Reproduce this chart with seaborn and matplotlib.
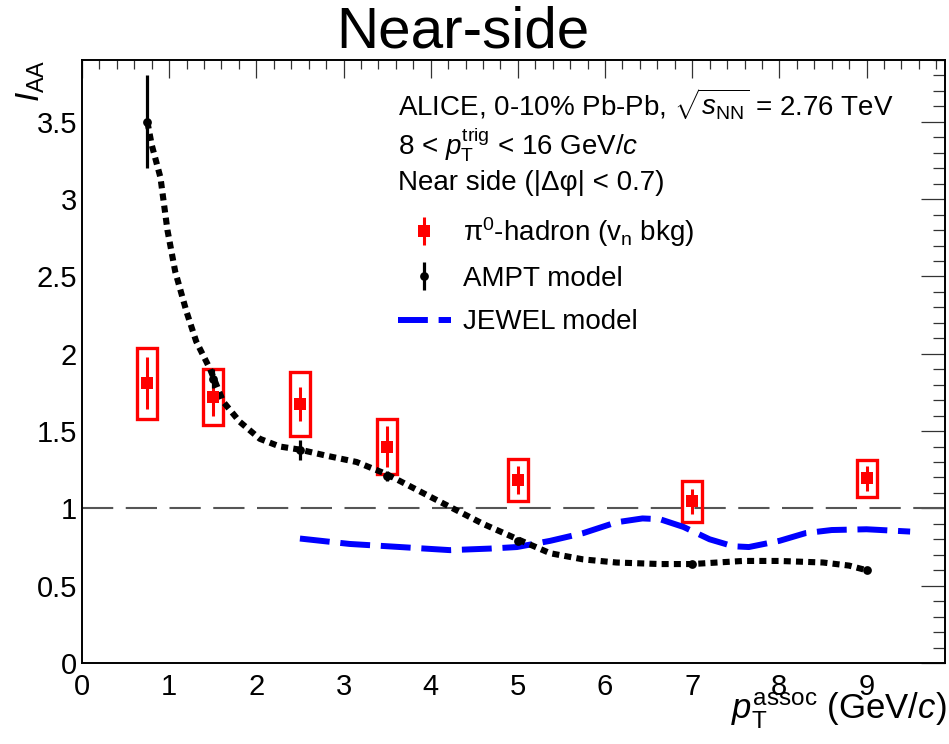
import matplotlib
matplotlib.use("Agg")
import matplotlib.pyplot as plt
from matplotlib.patches import Rectangle
from matplotlib.ticker import MultipleLocator, FuncFormatter
import seaborn as sns

# pi0-hadron near-side I_AA (0-10% Pb-Pb, v_n background subtraction)
pi0_pt = [0.75, 1.5, 2.5, 3.5, 5.0, 7.0, 9.0]
pi0_iaa = [1.81, 1.72, 1.675, 1.40, 1.185, 1.045, 1.195]
pi0_stat = [0.17, 0.12, 0.11, 0.13, 0.09, 0.08, 0.08]
pi0_sys = [0.23, 0.18, 0.21, 0.18, 0.135, 0.13, 0.12]

# AMPT model points
ampt_pt = [0.75, 1.5, 2.5, 3.5, 5.0, 7.0, 9.0]
ampt_iaa = [3.50, 1.84, 1.38, 1.21, 0.79, 0.64, 0.60]
ampt_err = [0.30, 0.06, 0.065, 0.03, 0.02, 0.02, 0.02]

# smooth AMPT curve
ampt_curve_pt = [0.75, 0.80, 0.90, 0.98, 1.07, 1.20, 1.31, 1.47, 1.62, 1.81,
                 2.04, 2.27, 2.50, 2.81, 3.15, 3.50, 3.91, 4.22, 4.60, 5.00,
                 5.37, 5.75, 6.13, 6.63, 7.00, 7.58, 8.00, 8.50, 8.80, 9.00]
ampt_curve_iaa = [3.50, 3.35, 3.14, 2.80, 2.53, 2.27, 2.08, 1.90, 1.69, 1.56,
                  1.45, 1.40, 1.38, 1.34, 1.30, 1.22, 1.10, 1.01, 0.90, 0.80,
                  0.71, 0.67, 0.65, 0.64, 0.64, 0.66, 0.66, 0.65, 0.63, 0.60]

# JEWEL model curve
jewel_pt = [2.5, 3.07, 3.65, 4.22, 4.68, 4.99, 5.37, 5.75, 6.13, 6.43,
            6.63, 6.90, 7.20, 7.47, 7.65, 8.00, 8.30, 8.60, 9.00, 9.50]
jewel_iaa = [0.805, 0.77, 0.75, 0.73, 0.74, 0.75, 0.79, 0.84, 0.91, 0.935,
             0.93, 0.88, 0.80, 0.755, 0.75, 0.79, 0.84, 0.86, 0.865, 0.85]

info_lines = [
    r"ALICE, 0-10% Pb-Pb, $\sqrt{s_{\rm NN}}$ = 2.76 TeV",
    r"8 < $p_{\rm T}^{\rm trig}$ < 16 GeV/$c$",
    "Near side (|Δφ| < 0.7)",
]
legend_labels = [r"π$^{0}$-hadron (v$_{\rm n}$ bkg)", "AMPT model", "JEWEL model"]

sns.set_theme(style="white")
plt.rcParams["font.family"] = ["Liberation Sans", "DejaVu Sans"]
plt.rcParams["mathtext.fontset"] = "custom"
plt.rcParams["mathtext.rm"] = "Liberation Sans"
plt.rcParams["mathtext.it"] = "Liberation Sans:italic"
plt.rcParams["mathtext.bf"] = "Liberation Sans:bold"
plt.rcParams["text.color"] = "black"
plt.rcParams["axes.labelcolor"] = "black"

W, H = 949, 744
fig = plt.figure(figsize=(W / 100, H / 100), dpi=100)
ax = fig.add_axes([82 / W, 81 / H, 863 / W, 603 / H])
ax.set_xlim(0, 9.9)
ax.set_ylim(0, 3.9)

# unity reference
ax.axhline(1.0, color="#555555", lw=1.5, dashes=(15, 6), zorder=1)

# systematic boxes
bw = 0.115
for x, y, s in zip(pi0_pt, pi0_iaa, pi0_sys):
    ax.add_patch(Rectangle((x - bw, y - s), 2 * bw, 2 * s, fill=False,
                           edgecolor="red", lw=2.4, zorder=2))

# model curves
sns.lineplot(x=jewel_pt, y=jewel_iaa, ax=ax, color="blue", lw=4.3,
             sort=False, estimator=None, zorder=3)
jewel_line = ax.lines[-1]
jewel_line.set_dashes((5, 1.8))

sns.lineplot(x=ampt_curve_pt, y=ampt_curve_iaa, ax=ax, color="black", lw=4.4,
             sort=False, estimator=None, zorder=4)
ampt_line = ax.lines[-1]
ampt_line.set_dashes((1.15, 0.85))

# data points with statistical errors
pi0_eb = ax.errorbar(pi0_pt, pi0_iaa, yerr=pi0_stat, fmt="s", color="red",
                     ms=8.5, mew=0, elinewidth=2.2, capsize=0, zorder=5)
ampt_eb = ax.errorbar(ampt_pt, ampt_iaa, yerr=ampt_err, fmt="o", color="black",
                      ms=6.3, mew=0, elinewidth=2.3, capsize=0, zorder=6)

# axes style
for sp in ax.spines.values():
    sp.set_visible(True)
    sp.set_color("black")
    sp.set_linewidth(1.4)
ax.xaxis.set_major_locator(MultipleLocator(1))
ax.xaxis.set_minor_locator(MultipleLocator(0.2))
ax.yaxis.set_major_locator(MultipleLocator(0.5))
ax.yaxis.set_minor_locator(MultipleLocator(0.1))
fmt = FuncFormatter(lambda v, p: f"{v:g}")
ax.xaxis.set_major_formatter(fmt)
ax.yaxis.set_major_formatter(fmt)
ax.tick_params(which="both", direction="in", top=True, right=True,
               color="#333333", width=0.9, labelsize=21, labelcolor="black")
ax.tick_params(axis="x", which="major", length=13, pad=7)
ax.tick_params(axis="x", which="minor", length=6.5)
ax.tick_params(axis="y", which="major", length=17.5, pad=3.5)
ax.tick_params(axis="y", which="minor", length=8.7)
ax.grid(False)

ax.set_xlabel(r"$p_{\rm T}^{\rm assoc}$ (GeV/$c$)", loc="right", fontsize=25)
ax.xaxis.set_label_coords(1.0015, -0.046)
ax.set_ylabel(r"$I_{\rm AA}$", loc="top", fontsize=24)
ax.yaxis.set_label_coords(-0.04, 1.0)

fig.text(463 / W, 1 - 47 / H, "Near-side", ha="center", va="baseline",
         fontsize=42)

for txt, base in zip(info_lines, [116, 154, 190]):
    fig.text(398 / W, 1 - base / H, txt, ha="left", va="baseline", fontsize=20)

ax.legend([pi0_eb, ampt_eb, jewel_line], legend_labels,
          loc="upper left", bbox_to_anchor=(398 / W, 1 - 215 / H),
          bbox_transform=fig.transFigure, frameon=False, fontsize=20,
          handlelength=1.9, handletextpad=0.45, labelspacing=0.62,
          borderpad=0, borderaxespad=0)

fig.savefig("out.png", dpi=100)
